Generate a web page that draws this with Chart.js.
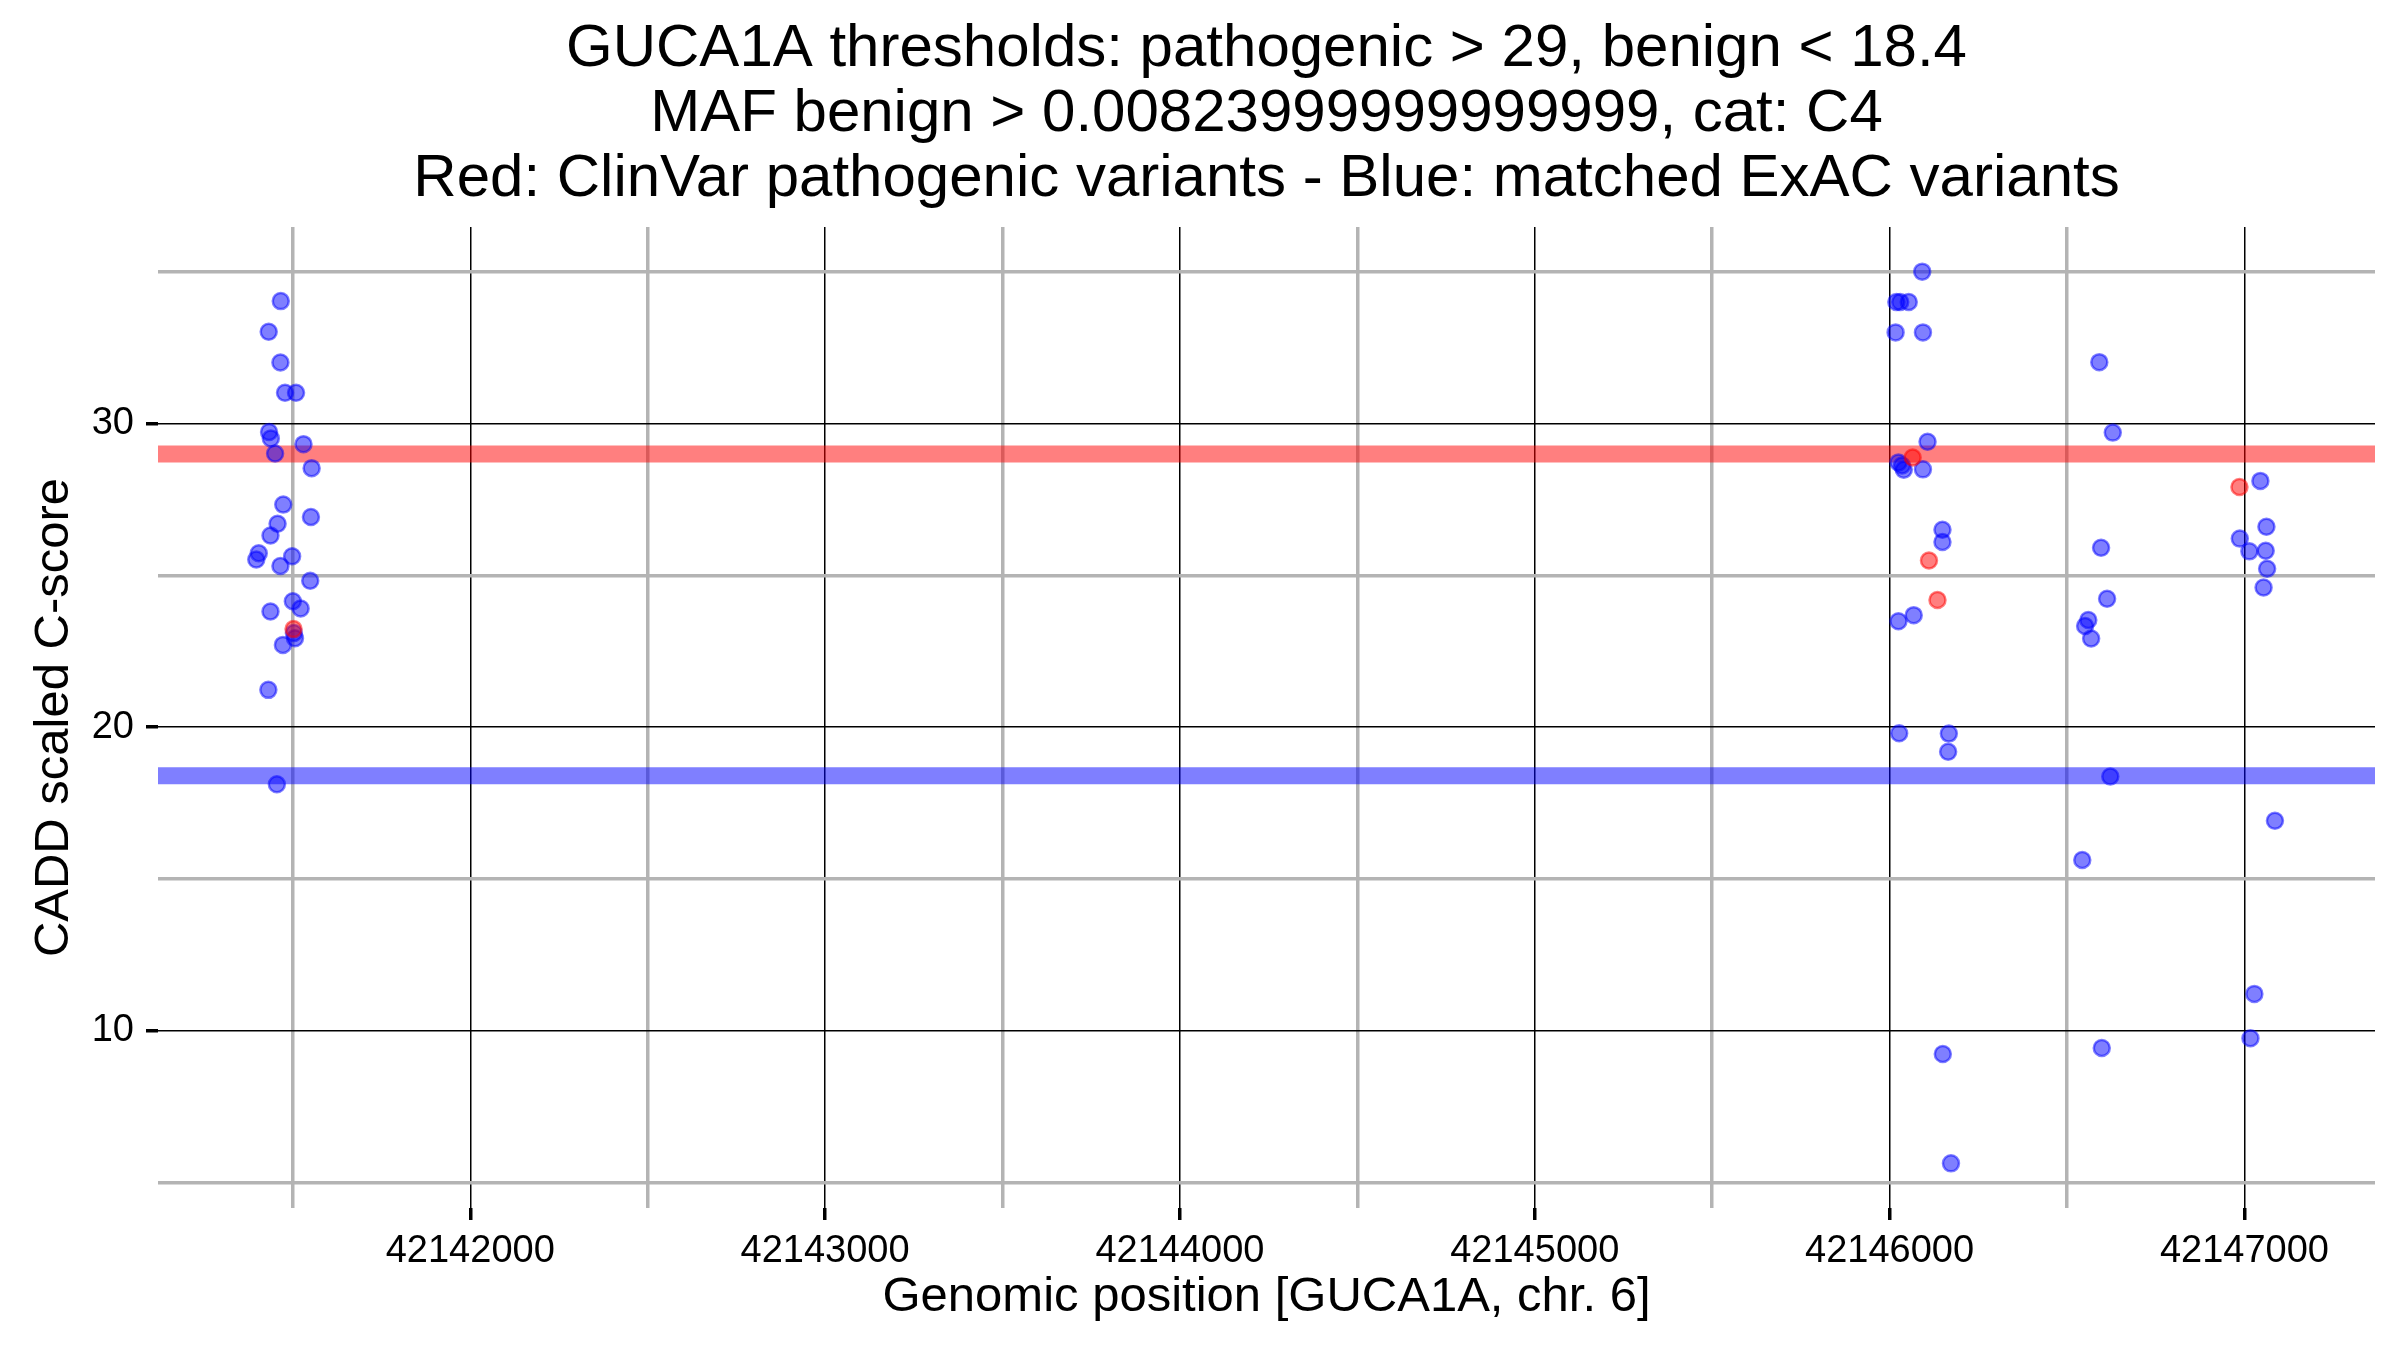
<!DOCTYPE html>
<html>
<head>
<meta charset="utf-8">
<style>
  html, body { margin: 0; padding: 0; background: #ffffff; }
  #wrap { width: 2400px; height: 1350px; }
</style>
<script src="https://cdn.jsdelivr.net/npm/chart.js@4/dist/chart.umd.min.js"></script>
</head>
<body>
<div id="wrap"><canvas id="c" width="2400" height="1350"></canvas></div>
<script>
// ---- Data ----
const titleLines = [
  "GUCA1A thresholds: pathogenic > 29, benign < 18.4",
  "MAF benign > 0.00823999999999999, cat: C4",
  "Red: ClinVar pathogenic variants - Blue: matched ExAC variants"
];
const xAxisTitle = "Genomic position [GUCA1A, chr. 6]";
const yAxisTitle = "CADD scaled C-score";

const pathogenicThreshold = 29;
const benignThreshold = 18.4;

// matched ExAC variants (blue)
const exacPos = [
  42141466, 42141432, 42141465, 42141478, 42141509, 42141433, 42141438, 42141530,
  42141450, 42141553, 42141473, 42141551, 42141457, 42141437, 42141404, 42141397,
  42141498, 42141465, 42141549, 42141500, 42141522, 42141437, 42141506, 42141503,
  42141472, 42141431, 42141455,
  42146092, 42146019, 42146030, 42146054, 42146017, 42146094, 42146107, 42146025,
  42146035, 42146040, 42146094, 42146149, 42146149, 42146068, 42146025, 42146027,
  42146167, 42146165, 42146150, 42146173,
  42146591, 42146629, 42146596, 42146613, 42146560, 42146551, 42146568, 42146622,
  42146543, 42146598,
  42147045, 42147062, 42146987, 42147014, 42147060, 42147064, 42147054, 42147086,
  42147028, 42147017
];
const exacScore = [
  34.03, 33.02, 32.01, 31.01, 31.01, 29.72, 29.51, 29.32,
  29.01, 28.53, 27.33, 26.92, 26.70, 26.31, 25.73, 25.52,
  25.63, 25.31, 24.82, 24.15, 23.91, 23.81, 22.93, 23.10,
  22.71, 21.23, 18.12,
  35.00, 34.00, 34.00, 34.00, 33.00, 33.00, 29.40, 28.72,
  28.62, 28.48, 28.49, 26.50, 26.10, 23.69, 23.49, 19.80,
  19.79, 19.19, 9.24, 5.64,
  32.02, 29.70, 25.91, 24.23, 23.53, 23.33, 22.92, 18.38,
  15.63, 9.44,
  28.11, 26.60, 26.21, 25.79, 25.81, 25.22, 24.60, 16.92,
  11.22, 9.76
];

// ClinVar pathogenic variants (red)
const clinvarPos = [42141502, 42146065, 42146111, 42146135, 42146986];
const clinvarScore = [23.23, 28.88, 25.49, 24.19, 27.91];

// axes
const xMin = 42141120, xMax = 42147368;
const yMin = 4.17, yMax = 36.47;
const xGridValues = [42141500, 42142000, 42142500, 42143000, 42143500, 42144000,
                     42144500, 42145000, 42145500, 42146000, 42146500, 42147000];
const xLabelValues = [42142000, 42143000, 42144000, 42145000, 42146000, 42147000];
const yGridValues = [5, 10, 15, 20, 25, 30, 35];
const yLabelValues = [10, 20, 30];

// ---- Build chart ----
const FONT = "'Liberation Sans', Arial, Helvetica, sans-serif";
Chart.defaults.font.family = FONT;
Chart.defaults.color = '#000000';

const toPoints = (xs, ys) => xs.map((x, i) => ({ x: x, y: ys[i] }));
const hline = (v) => [{ x: xMin, y: v }, { x: xMax, y: v }];

const isMajorX = v => xLabelValues.includes(v);
const isMajorY = v => yLabelValues.includes(v);

const titlePlugin = {
  id: 'multiTitle',
  afterDraw(chart) {
    const { ctx, chartArea } = chart;
    ctx.save();
    ctx.fillStyle = '#000';
    ctx.font = "60px " + FONT;
    ctx.textAlign = 'center';
    ctx.textBaseline = 'middle';
    const cx = (chartArea.left + chartArea.right) / 2;
    const n = titleLines.length;
    titleLines.forEach((t, i) => {
      const y = chartArea.top - 48 - (n - 1 - i) * 65;
      ctx.fillText(t, cx, y);
    });
    ctx.restore();
  }
};

new Chart(document.getElementById('c'), {
  type: 'scatter',
  data: {
    datasets: [
      {
        label: 'ClinVar pathogenic',
        data: toPoints(clinvarPos, clinvarScore),
        backgroundColor: 'rgba(255,0,0,0.5)',
        borderColor: 'rgba(255,0,0,0.5)',
        borderWidth: 2.5,
        pointRadius: 8,
        order: 1
      },
      {
        label: 'ExAC matched',
        data: toPoints(exacPos, exacScore),
        backgroundColor: 'rgba(0,0,255,0.5)',
        borderColor: 'rgba(0,0,255,0.5)',
        borderWidth: 2.5,
        pointRadius: 8,
        order: 2
      },
      {
        type: 'line',
        label: 'pathogenic threshold',
        data: hline(pathogenicThreshold),
        borderColor: 'rgba(255,0,0,0.5)',
        borderWidth: 17,
        borderCapStyle: 'butt',
        pointRadius: 0,
        fill: false,
        order: 3
      },
      {
        type: 'line',
        label: 'benign threshold',
        data: hline(benignThreshold),
        borderColor: 'rgba(0,0,255,0.5)',
        borderWidth: 17,
        borderCapStyle: 'butt',
        pointRadius: 0,
        fill: false,
        order: 4
      }
    ]
  },
  options: {
    responsive: false,
    maintainAspectRatio: false,
    devicePixelRatio: 1,
    animation: false,
    events: [],
    layout: { padding: { left: 0, right: 25, top: 227, bottom: 0 } },
    plugins: {
      legend: { display: false },
      tooltip: { enabled: false },
      title: { display: false }
    },
    scales: {
      x: {
        type: 'linear',
        min: xMin,
        max: xMax,
        afterBuildTicks: s => { s.ticks = xGridValues.map(v => ({ value: v })); },
        afterFit: s => { s.height = 142; },
        border: { display: false },
        grid: {
          color: c => isMajorX(c.tick.value) ? '#000000' : '#b4b4b4',
          lineWidth: c => isMajorX(c.tick.value) ? 1.5 : 3.5,
          tickColor: c => isMajorX(c.tick.value) ? '#000000' : 'rgba(0,0,0,0)',
          tickWidth: 3.5,
          tickLength: 12,
          drawTicks: true
        },
        ticks: {
          autoSkip: false,
          maxRotation: 0,
          padding: 9,
          font: { size: 38 },
          color: '#000000',
          callback: v => isMajorX(v) ? String(v) : ''
        },
        title: {
          display: true,
          text: xAxisTitle,
          font: { size: 49, lineHeight: 1.2 },
          color: '#000000',
          padding: { top: 0, bottom: 23 }
        }
      },
      y: {
        type: 'linear',
        min: yMin,
        max: yMax,
        afterBuildTicks: s => { s.ticks = yGridValues.map(v => ({ value: v })); },
        afterFit: s => { s.width = 158; },
        border: { display: false },
        grid: {
          color: c => isMajorY(c.tick.value) ? '#000000' : '#b4b4b4',
          lineWidth: c => isMajorY(c.tick.value) ? 1.5 : 3.5,
          tickColor: c => isMajorY(c.tick.value) ? '#000000' : 'rgba(0,0,0,0)',
          tickWidth: 3.5,
          tickLength: 12,
          drawTicks: true
        },
        ticks: {
          autoSkip: false,
          padding: 12,
          font: { size: 38 },
          color: '#000000',
          callback: v => isMajorY(v) ? String(v) : ''
        },
        title: {
          display: true,
          text: yAxisTitle,
          font: { size: 49, lineHeight: 1.2 },
          color: '#000000',
          padding: { top: 25, bottom: 0 }
        }
      }
    }
  },
  plugins: [titlePlugin]
});
</script>
</body>
</html>
